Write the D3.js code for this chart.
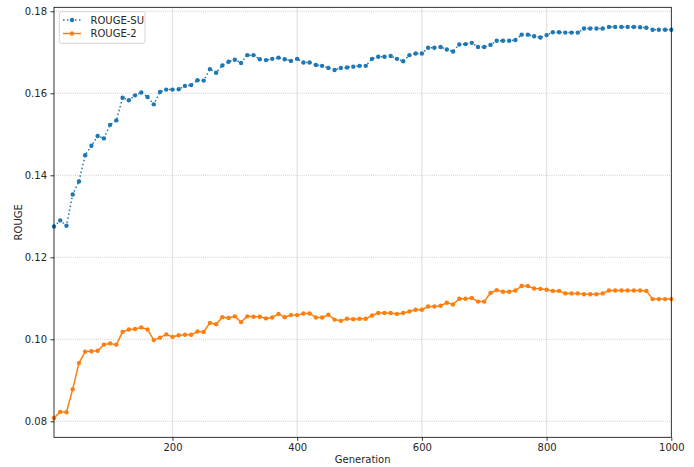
<!DOCTYPE html>
<html><head><meta charset="utf-8">
<script src="https://cdn.jsdelivr.net/npm/d3@7"></script>
<style>body{margin:0;background:#fff}svg{display:block;font-family:"DejaVu Sans",sans-serif}</style>
</head><body><svg id="c" width="694" height="467"></svg>
<script>
const generations = d3.range(10, 1001, 10);
const rougeSU = [
0.1275,0.1290,0.1277,0.1353,0.1385,0.1449,0.1472,0.1496,0.1490,0.1523,
0.1534,0.1589,0.1583,0.1595,0.1602,0.1591,0.1573,0.1603,0.1609,0.1609,
0.1610,0.1618,0.1620,0.1632,0.1631,0.1659,0.1650,0.1668,0.1677,0.1682,
0.1674,0.1693,0.1693,0.1683,0.1681,0.1684,0.1687,0.1683,0.1679,0.1684,
0.1675,0.1675,0.1669,0.1667,0.1662,0.1657,0.1662,0.1663,0.1665,0.1667,
0.1667,0.1684,0.1689,0.1689,0.1691,0.1684,0.1678,0.1693,0.1697,0.1697,
0.1711,0.1711,0.1713,0.1707,0.1702,0.1719,0.1720,0.1723,0.1713,0.1713,
0.1718,0.1728,0.1728,0.1728,0.1730,0.1743,0.1743,0.1739,0.1736,0.1742,
0.1749,0.1749,0.1748,0.1748,0.1748,0.1758,0.1758,0.1758,0.1758,0.1762,
0.1762,0.1762,0.1762,0.1762,0.1761,0.1760,0.1755,0.1755,0.1755,0.1755];
const rouge2 = [
0.0808,0.0823,0.0822,0.0878,0.0942,0.0970,0.0971,0.0972,0.0987,0.0990,
0.0987,0.1018,0.1024,0.1025,0.1029,0.1024,0.0998,0.1004,0.1012,0.1006,
0.1010,0.1011,0.1011,0.1019,0.1018,0.1040,0.1037,0.1054,0.1052,0.1056,
0.1042,0.1056,0.1055,0.1055,0.1051,0.1053,0.1062,0.1054,0.1059,0.1059,
0.1063,0.1063,0.1053,0.1053,0.1060,0.1048,0.1045,0.1050,0.1049,0.1050,
0.1050,0.1058,0.1064,0.1064,0.1064,0.1062,0.1064,0.1068,0.1072,0.1072,
0.1080,0.1080,0.1082,0.1089,0.1085,0.1099,0.1099,0.1101,0.1092,0.1092,
0.1113,0.1120,0.1116,0.1116,0.1119,0.1130,0.1130,0.1124,0.1123,0.1121,
0.1118,0.1118,0.1112,0.1112,0.1112,0.1110,0.1110,0.1110,0.1112,0.1119,
0.1119,0.1119,0.1119,0.1119,0.1119,0.1118,0.1098,0.1098,0.1098,0.1098];
const xTicks = [200, 400, 600, 800, 1000];
const yTicks = [0.08, 0.10, 0.12, 0.14, 0.16, 0.18];
const seriesNames = ["ROUGE-SU", "ROUGE-2"];
const colors = ["#1f77b4", "#ff7f0e"];

const L = 54, R = 671.3, T = 7.3, B = 437.3;
const svg = d3.select("#c");
const x = d3.scaleLinear().domain([10, 1000]).range([L, R]);
const y = d3.scaleLinear().domain([0.08, 0.18]).range([421.3, 11.3]);

// grid
const g = svg.append("g");
const gxData = xTicks.filter(d => d < 1000);
g.selectAll(".gxs").data(gxData).join("line")
  .attr("x1", d => x(d)).attr("x2", d => x(d)).attr("y1", T).attr("y2", B)
  .attr("stroke", "#f0f0f0").attr("stroke-width", 1.4);
g.selectAll(".gx").data(gxData).join("line")
  .attr("x1", d => x(d)).attr("x2", d => x(d)).attr("y1", T).attr("y2", B)
  .attr("stroke", "#c8c8c8").attr("stroke-width", 0.8).attr("stroke-dasharray", "0.8,1.3");
g.selectAll(".gy").data(yTicks).join("line")
  .attr("x1", L).attr("x2", R).attr("y1", d => y(d)).attr("y2", d => y(d))
  .attr("stroke", "#b0b0b0").attr("stroke-opacity", 0.9).attr("stroke-width", 0.8).attr("stroke-dasharray", "0.8,1.3");

// axes
const xAxis = d3.axisBottom(x).tickValues(xTicks).tickSize(3.5).tickPadding(3.5).tickFormat(d3.format("d"));
const yAxis = d3.axisLeft(y).tickValues(yTicks).tickSize(3.5).tickPadding(3.5).tickFormat(d3.format(".2f"));
const ax = svg.append("g").attr("transform", `translate(0,${B})`).call(xAxis);
const ay = svg.append("g").attr("transform", `translate(${L},0)`).call(yAxis);
[ax, ay].forEach(a => {
  a.select(".domain").remove();
  a.selectAll("line").attr("stroke", "#000").attr("stroke-width", 0.8);
  a.selectAll("text").attr("fill", "#262626").attr("font-size", 10).attr("font-family", "DejaVu Sans, sans-serif");
});

// lines
const data = [rougeSU, rouge2];
const line = d3.line().x((d, i) => x(generations[i])).y(d => y(d));
data.forEach((s, k) => {
  svg.append("path").datum(s).attr("d", line).attr("fill", "none")
    .attr("stroke", colors[k]).attr("stroke-width", 1.5)
    .attr("stroke-dasharray", k === 0 ? "1.5,2.5" : null);
  svg.append("g").selectAll("circle").data(s).join("circle")
    .attr("cx", (d, i) => x(generations[i])).attr("cy", d => y(d)).attr("r", 2.2)
    .attr("fill", colors[k]);
});

// frame
svg.append("rect").attr("x", L).attr("y", T).attr("width", R - L).attr("height", B - T)
  .attr("fill", "none").attr("stroke", "#000").attr("stroke-width", 0.8);

// labels
svg.append("text").attr("x", (L + R) / 2).attr("y", 463).attr("text-anchor", "middle")
  .attr("font-size", 10).attr("fill", "#262626").text("Generation");
svg.append("text").attr("transform", `translate(21.5,${(T + B) / 2}) rotate(-90)`).attr("text-anchor", "middle")
  .attr("font-size", 10).attr("fill", "#262626").text("ROUGE");

// legend
const lg = svg.append("g");
lg.append("rect").attr("x", 59.3).attr("y", 11.7).attr("width", 85.7).attr("height", 31.6).attr("rx", 2)
  .attr("fill", "#fff").attr("fill-opacity", 0.8).attr("stroke", "#ccc").attr("stroke-width", 0.8);
seriesNames.forEach((n, k) => {
  const yy = 20 + k * 13.5;
  lg.append("line").attr("x1", 63).attr("x2", 81).attr("y1", yy).attr("y2", yy)
    .attr("stroke", colors[k]).attr("stroke-width", 1.5).attr("stroke-dasharray", k === 0 ? "1.5,2.5" : null);
  lg.append("circle").attr("cx", 72).attr("cy", yy).attr("r", 2.2).attr("fill", colors[k]);
  lg.append("text").attr("x", 90.5).attr("y", yy + 3.6).attr("font-size", 10).attr("fill", "#262626").text(n);
});
</script></body></html>
